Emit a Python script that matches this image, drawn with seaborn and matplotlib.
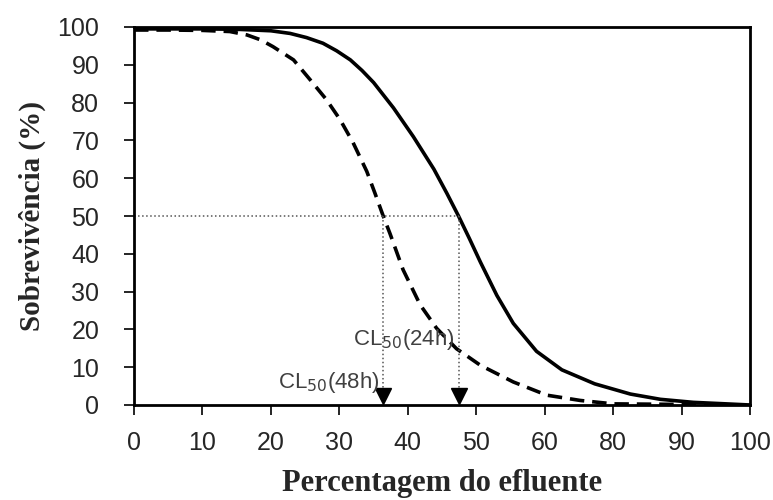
import matplotlib
matplotlib.use('Agg')
import matplotlib.pyplot as plt
import numpy as np
import pandas as pd
import seaborn as sns

# x positions on the drawn axis (ticks evenly spaced, labels below)
tick_pos = [0, 10, 20, 30, 40, 50, 60, 70, 80, 90]
tick_labels = ['0', '10', '20', '30', '40', '50', '60', '80', '90', '100']
y_ticks = [0, 10, 20, 30, 40, 50, 60, 70, 80, 90, 100]

# CL50 24h (solid)
x_24h = [0, 5, 10, 15, 20, 22.8, 25.2, 27.6, 29.6, 31.6, 33.3, 35.0, 37.9, 40.8, 43.8,
         45.7, 47.4, 49.0, 50.6, 53.0, 55.4, 58.8, 62.5, 67.3, 72.5, 76.9, 81.7, 86.5, 90]
y_24h = [99.5, 99.5, 99.5, 99.4, 99.0, 98.3, 97.2, 95.7, 93.7, 91.3, 88.5, 85.3, 78.6, 71.0, 62.4,
         56.0, 50.0, 44.0, 37.8, 29.0, 21.6, 14.2, 9.3, 5.6, 2.9, 1.5, 0.7, 0.3, 0.0]

# CL50 48h (dashed)
x_48h = [0, 5, 10, 14, 16.5, 18.5, 20.3, 23.3, 25.7, 28.1, 30.1, 32.0, 34.0, 35.2, 36.4, 37.4,
         39.3, 41.8, 44.2, 47.1, 50.6, 55.4, 60.3, 65.2, 70, 90]
y_48h = [99.2, 99.2, 99.1, 98.8, 97.9, 96.6, 94.8, 91.3, 86.1, 80.8, 75.5, 69.4, 61.8, 56.0, 50.0, 45.3,
         35.8, 26.5, 20.3, 14.9, 10.5, 6.1, 2.6, 1.2, 0.3, 0.0]

cl50_24h = 47.4
cl50_48h = 36.4

df = pd.concat([
    pd.DataFrame({'x': x_24h, 'y': y_24h, 'serie': '24h'}),
    pd.DataFrame({'x': x_48h, 'y': y_48h, 'serie': '48h'}),
])

sns.set_theme(style='white')
plt.rcParams['font.family'] = ['Liberation Sans', 'DejaVu Sans']

fig = plt.figure(figsize=(7.73, 5.0), dpi=100)
ax = fig.add_axes([0.1734, 0.19, 0.797, 0.756])

sns.lineplot(data=df, x='x', y='y', style='serie', dashes={'24h': '', '48h': (4, 2.2)},
             color='black', linewidth=2.6, ax=ax, legend=False, sort=False)
for l in ax.get_lines():
    l.set_solid_joinstyle('round')
    l.set_dash_joinstyle('round')

# dotted guide lines
ax.plot([0, cl50_24h], [50, 50], color='#555555', linestyle=':', linewidth=1.1)
for xv in [cl50_48h, cl50_24h]:
    ax.plot([xv, xv], [50, 3], color='#555555', linestyle=':', linewidth=1.1)
    ax.plot(xv, 2.4, marker='v', color='black', markersize=12, clip_on=False)

ax.text(cl50_24h - 0.5, 14.0, 'CL$_{50}$(24h)', ha='right', va='bottom', fontsize=16, color='#404040')
ax.text(cl50_48h - 0.5, 2.6, 'CL$_{50}$(48h)', ha='right', va='bottom', fontsize=16, color='#404040')

ax.set_xlim(0, 90)
ax.set_ylim(0, 100)
ax.set_xticks(tick_pos)
ax.set_xticklabels(tick_labels)
ax.set_yticks(y_ticks)
ax.tick_params(axis='both', labelsize=18, direction='out', length=7, width=1.2,
               color='black', left=True, bottom=True)
ax.tick_params(axis='x', pad=12)
ax.tick_params(axis='y', pad=18)
for s in ax.spines.values():
    s.set_color('black')
    s.set_linewidth(2.0)

ax.set_xlabel('Percentagem do efluente', fontsize=22, fontweight='bold',
              family='Liberation Serif', labelpad=10)
ax.set_ylabel('Sobrevivência (%)', fontsize=21, fontweight='bold',
              family='Liberation Serif', labelpad=8)

plt.savefig('out.png', dpi=100)
